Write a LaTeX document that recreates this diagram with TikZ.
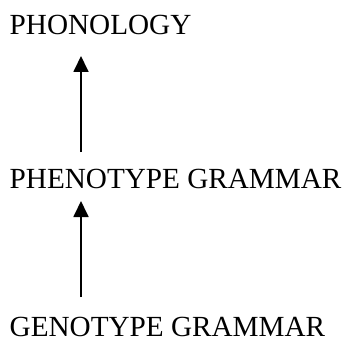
\documentclass[tikz,border=0pt]{standalone}
\usepackage{fontspec}
\setmainfont{Liberation Serif}
\usetikzlibrary{arrows.meta}
\begin{document}
\begin{tikzpicture}[x=1pt,y=1pt,
  lbl/.style={anchor=base west,inner sep=0pt,font=\fontsize{29.2}{34}\selectfont},
  arr/.style={line width=1.8pt,-{Triangle[width=15pt,length=16pt]}}]
\useasboundingbox (0,0) rectangle (342,338);
\node[lbl] (phon) at (9.5,303) {PHONOLOGY};
\node[lbl] (pheno) at (9.5,150) {PHENOTYPE GRAMMAR};
\node[lbl] (geno) at (9.5,1.5) {GENOTYPE GRAMMAR};
\draw[arr] ([xshift=71.5pt,yshift=39.5pt]geno.base west) -- ([xshift=71.5pt,yshift=-13pt]pheno.base west);
\draw[arr] ([xshift=71.5pt,yshift=36pt]pheno.base west) -- ([xshift=71.5pt,yshift=-21pt]phon.base west);
\end{tikzpicture}
\end{document}
